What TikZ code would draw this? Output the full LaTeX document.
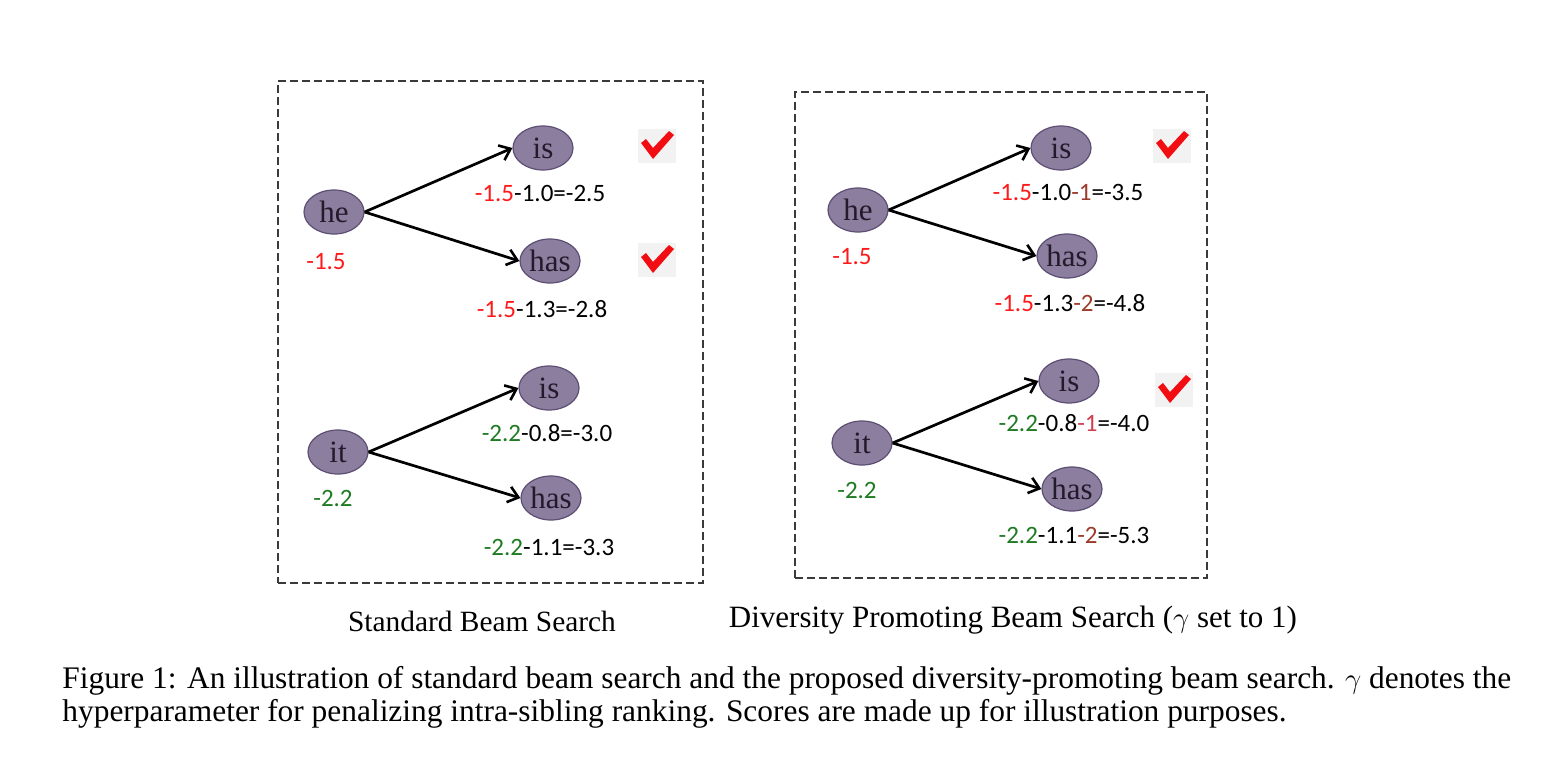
\documentclass[tikz,border=0pt]{standalone}
\usepackage{fontspec}
\setmainfont{Liberation Serif}
\newfontfamily\numfont{Carlito}
\usetikzlibrary{arrows.meta,shapes.geometric}
\definecolor{ellfill}{HTML}{8B7E9F}
\definecolor{elldraw}{HTML}{5D4E73}
\definecolor{elltext}{HTML}{231A2B}
\definecolor{sred}{HTML}{FF1A1A}
\definecolor{sgreen}{HTML}{1E7B22}
\definecolor{sbrown}{HTML}{9B3B2B}
\definecolor{spink}{HTML}{D0404F}
\definecolor{chkbg}{HTML}{F2F2F2}
\definecolor{chkred}{HTML}{F20D12}
\definecolor{boxgray}{HTML}{3A3A3A}
\tikzset{
  word/.style={ellipse, fill=ellfill, draw=elldraw, line width=0.6pt,
    minimum width=30pt, minimum height=22pt, inner sep=0pt,
    text=elltext, font=\fontsize{15.5}{16}\selectfont},
  score/.style={font=\numfont\fontsize{12.5}{13}\selectfont, inner sep=0pt},
  arr/.style={line width=1.35pt, -{Straight Barb[length=5pt,width=8pt,line width=1.3pt]}},
  panel/.style={draw=boxgray, line width=1.1pt, dash pattern=on 4pt off 2pt},
  subcap/.style={font=\fontsize{14.7}{16}\selectfont, inner sep=0pt, anchor=base},
  figcap/.style={font=\fontsize{15.7}{16}\selectfont, inner sep=0pt, anchor=base west},
  tick/.pic={
    \fill[chkbg] (-19,-17) rectangle (19,17);
    \fill[chkred] (-16,-3) -- (-11,-7) -- (-4,2) -- (12,-15) -- (17,-11) -- (-4,13) -- cycle;
  }
}
\newcommand{\rd}[1]{\textcolor{sred}{#1}}
\newcommand{\gr}[1]{\textcolor{sgreen}{#1}}
\newcommand{\br}[1]{\textcolor{sbrown}{#1}}
\newcommand{\pk}[1]{\textcolor{spink}{#1}}
\begin{document}
\begin{tikzpicture}[x=0.5pt,y=-0.5pt]
\useasboundingbox (0,0) rectangle (1556,765);
% panels
\node[panel, minimum width=212.5pt, minimum height=251pt, inner sep=0pt] (boxL) at (490.5,332) {};
\node[panel, minimum width=206pt, minimum height=243pt, inner sep=0pt] (boxR) at (1001,335) {};
% left panel
\node[word] (heL) at (334,212) {he};
\node[word] (isL1) at (543,148) {is};
\node[word] (hasL1) at (550,261) {has};
\node[word] (itL) at (338,452) {it};
\node[word] (isL2) at (549,388) {is};
\node[word] (hasL2) at (551,498) {has};
\draw[arr] (heL.east) -- (isL1.west);
\draw[arr] (heL.east) -- (hasL1.west);
\draw[arr] (itL.east) -- (isL2.west);
\draw[arr] (itL.east) -- (hasL2.west);
\node[score] (sheL) at (326,262) {\rd{-1.5}};
\node[score] (sisL1) at (540,193) {\rd{-1.5}-1.0=-2.5};
\node[score] (shasL1) at (542,309) {\rd{-1.5}-1.3=-2.8};
\node[score] (sitL) at (333,498) {\gr{-2.2}};
\node[score] (sisL2) at (547,433) {\gr{-2.2}-0.8=-3.0};
\node[score] (shasL2) at (549,547) {\gr{-2.2}-1.1=-3.3};
\pic at (657,146) {tick};
\pic at (657,260) {tick};
% right panel
\node[word] (heR) at (858,210) {he};
\node[word] (isR1) at (1061,148) {is};
\node[word] (hasR1) at (1067,256) {has};
\node[word] (itR) at (862,443) {it};
\node[word] (isR2) at (1069,381) {is};
\node[word] (hasR2) at (1072,489) {has};
\draw[arr] (heR.east) -- (isR1.west);
\draw[arr] (heR.east) -- (hasR1.west);
\draw[arr] (itR.east) -- (isR2.west);
\draw[arr] (itR.east) -- (hasR2.west);
\node[score] (sheR) at (852,257) {\rd{-1.5}};
\node[score] (sisR1) at (1068,192) {\rd{-1.5}-1.0\br{-1}=-3.5};
\node[score] (shasR1) at (1070,303) {\rd{-1.5}-1.3\br{-2}=-4.8};
\node[score] (sitR) at (857,490) {\gr{-2.2}};
\node[score] (sisR2) at (1074,423) {\gr{-2.2}-0.8\pk{-1}=-4.0};
\node[score] (shasR2) at (1074,535) {\gr{-2.2}-1.1\br{-2}=-5.3};
\pic at (1172,146) {tick};
\pic at (1174,390) {tick};
% captions
\node[subcap] (capL) at (482,631) {Standard Beam Search};
\node[subcap, font=\fontsize{15.5}{16}\selectfont] (capR) at (1013,627) {Diversity Promoting Beam Search ($\gamma$ set to 1)};
\node[figcap] (fig1) at (62,688) {Figure 1: An illustration of standard beam search and the proposed diversity-promoting beam search. $\gamma$ denotes the};
\node[figcap] (fig2) at (62,721) {hyperparameter for penalizing intra-sibling ranking. Scores are made up for illustration purposes.};
\end{tikzpicture}
\end{document}
